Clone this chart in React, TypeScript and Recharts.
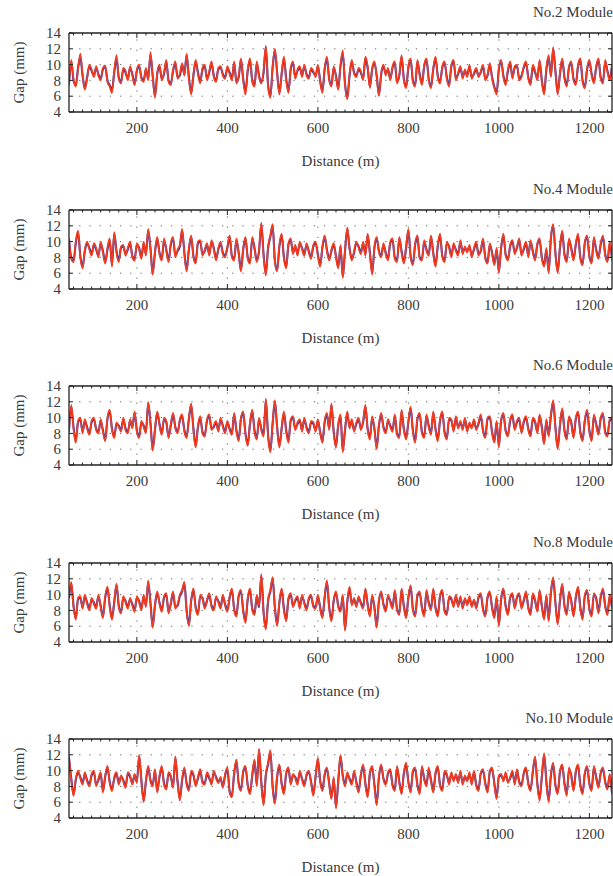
import React from 'react';
import { LineChart, Line, XAxis, YAxis, ReferenceLine } from 'recharts';

// Sampling of every gap record: first station and spacing along the line (m)
const START_M = 50;
const STEP_M = 5;

const X_DOMAIN: [number, number] = [50, 1250];
const Y_DOMAIN: [number, number] = [4, 14];
const X_MAJOR_TICKS = [200, 400, 600, 800, 1000, 1200];
const X_ALL_TICKS = Array.from({ length: 60 }, (_, i) => 60 + i * 20);
const Y_TICKS = [4, 6, 8, 10, 12, 14];
const Y_GRID = [6, 8, 10, 12];

const TITLES = ['No.2 Module', 'No.4 Module', 'No.6 Module', 'No.8 Module', 'No.10 Module'];
const X_LABEL = 'Distance (m)';
const Y_LABEL = 'Gap (mm)';

// ---- No.2 module ----
const NO2_A = [
  7.6, 10.4, 8.0, 7.4, 9.6, 11.0, 8.6, 7.0, 8.4, 9.8,
  9.2, 8.6, 9.6, 8.8, 8.2, 9.4, 9.7, 8.0, 7.4, 6.8,
  9.0, 10.8, 8.4, 7.8, 9.4, 9.0, 8.2, 9.6, 8.8, 7.6,
  9.2, 9.8, 8.4, 8.0, 9.4, 8.2, 11.2, 8.6, 6.0, 8.8,
  9.8, 8.2, 8.8, 10.4, 8.0, 7.6, 9.2, 10.2, 8.4, 8.6,
  10.0, 8.8, 11.2, 8.4, 6.4, 8.6, 10.4, 9.0, 7.8, 9.4,
  9.8, 8.2, 9.0, 10.2, 8.6, 8.0, 9.4, 9.6, 8.8, 8.4,
  9.6, 9.0, 8.2, 10.2, 7.8, 8.4, 10.6, 8.2, 6.6, 9.2,
  10.6, 8.0, 7.4, 10.2, 8.6, 7.8, 9.0, 12.2, 7.4, 6.0,
  9.6, 11.8, 9.0, 6.4, 8.8, 10.8, 8.2, 6.6, 9.4, 10.2,
  8.4, 9.2, 9.6, 8.6, 9.8, 8.8, 8.4, 9.4, 9.0, 8.6,
  9.8, 8.0, 6.6, 9.4, 10.8, 8.2, 7.4, 9.6, 8.6, 7.0,
  9.8, 11.4, 7.6, 5.8, 8.6, 10.4, 9.0, 8.6, 9.4, 9.0,
  8.2, 10.8, 9.6, 7.2, 9.4, 10.2, 8.6, 6.2, 8.8, 9.8,
  8.8, 9.4, 8.2, 9.6, 10.2, 7.8, 8.6, 11.0, 8.2, 7.2,
  9.6, 10.6, 8.0, 7.4, 10.4, 8.8, 7.6, 9.8, 10.6, 8.2,
  7.2, 9.4, 10.8, 8.6, 7.8, 9.6, 10.2, 8.4, 7.4, 9.8,
  10.4, 8.2, 8.8, 9.6, 8.4, 9.2, 8.6, 9.8, 8.4, 8.8,
  9.4, 8.6, 9.0, 9.8, 8.2, 8.6, 10.0, 8.4, 7.2, 6.4,
  9.4, 10.4, 8.6, 7.6, 9.2, 10.2, 8.4, 9.6, 9.8, 8.2,
  8.6, 9.6, 10.2, 8.4, 7.6, 9.8, 9.0, 8.2, 10.4, 8.0,
  6.4, 9.4, 11.0, 8.6, 12.0, 9.2, 6.4, 8.8, 10.6, 8.4,
  7.4, 9.6, 10.2, 8.2, 7.6, 9.8, 10.6, 8.0, 7.2, 9.4,
  10.4, 8.8, 7.8, 9.6, 10.6, 8.4, 7.8, 10.4, 9.2, 8.2,
  9.8,
];
const NO2_B = [
  7.4, 10.6, 8.2, 7.2, 9.4, 11.4, 8.8, 6.8, 8.2, 10.0,
  9.4, 8.4, 9.8, 8.6, 8.0, 9.6, 9.9, 7.8, 7.2, 6.4,
  9.2, 11.2, 8.2, 7.6, 9.6, 9.2, 8.0, 9.8, 8.6, 7.4,
  9.4, 10.0, 8.2, 7.8, 9.6, 8.0, 11.6, 8.4, 5.8, 9.0,
  10.0, 8.0, 9.0, 10.6, 7.8, 7.4, 9.4, 10.4, 8.2, 8.8,
  10.2, 8.6, 11.4, 8.2, 6.2, 8.8, 10.6, 8.8, 7.6, 9.6,
  10.0, 8.0, 9.2, 10.4, 8.4, 7.8, 9.6, 9.8, 8.6, 8.2,
  9.8, 8.8, 8.0, 10.4, 7.6, 8.6, 10.8, 8.0, 6.2, 9.4,
  10.8, 7.8, 7.2, 10.4, 8.4, 7.6, 9.2, 12.4, 7.2, 5.8,
  9.8, 12.0, 8.8, 6.2, 9.0, 11.0, 8.0, 6.4, 9.6, 10.4,
  8.2, 9.4, 9.8, 8.4, 10.0, 8.6, 8.2, 9.6, 9.2, 8.4,
  10.0, 7.8, 6.4, 9.6, 11.0, 8.0, 7.2, 9.8, 8.4, 6.8,
  10.0, 11.8, 7.4, 5.6, 8.8, 10.6, 8.8, 8.4, 9.6, 9.2,
  8.0, 11.0, 9.8, 7.0, 9.6, 10.4, 8.4, 6.0, 9.0, 10.0,
  8.6, 9.6, 8.0, 9.8, 10.4, 7.6, 8.8, 11.2, 8.0, 7.0,
  9.8, 10.8, 7.8, 7.2, 10.6, 8.6, 7.4, 10.0, 10.8, 8.0,
  7.0, 9.6, 11.0, 8.4, 7.6, 9.8, 10.4, 8.2, 7.2, 10.0,
  10.6, 8.0, 9.0, 9.8, 8.2, 9.4, 8.4, 10.0, 8.2, 9.0,
  9.6, 8.4, 9.2, 10.0, 8.0, 8.8, 10.2, 8.2, 7.0, 6.2,
  9.6, 10.6, 8.4, 7.4, 9.4, 10.4, 8.2, 9.8, 10.0, 8.0,
  8.4, 9.8, 10.4, 8.2, 7.4, 10.0, 9.2, 8.0, 10.6, 7.8,
  6.2, 9.6, 11.2, 8.4, 12.2, 9.0, 6.2, 9.0, 10.8, 8.2,
  7.2, 9.8, 10.4, 8.0, 7.4, 10.0, 10.8, 7.8, 7.0, 9.6,
  10.6, 8.6, 7.6, 9.8, 10.8, 8.2, 7.6, 10.6, 9.0, 8.0,
  10.0,
];

// ---- No.4 module ----
const NO4_A = [
  10.2, 8.0, 7.6, 9.8, 11.2, 8.2, 6.8, 8.8, 9.8, 9.2,
  8.4, 9.6, 9.0, 8.2, 9.8, 8.8, 7.4, 9.0, 10.2, 7.0,
  11.0, 8.8, 7.6, 9.2, 9.4, 8.4, 9.0, 9.8, 8.2, 7.8,
  9.6, 9.2, 8.0, 9.8, 8.4, 11.4, 9.2, 6.0, 8.6, 10.4,
  8.6, 7.8, 10.2, 9.0, 7.6, 9.6, 10.4, 8.2, 8.8, 9.4,
  11.4, 8.6, 6.4, 9.0, 10.6, 8.2, 7.4, 9.8, 10.0, 8.4,
  8.8, 9.6, 8.4, 10.0, 9.2, 7.8, 9.0, 9.8, 8.6, 8.2,
  9.2, 10.6, 8.2, 7.8, 10.2, 8.6, 6.4, 9.0, 10.4, 8.0,
  7.4, 10.4, 9.2, 7.6, 8.8, 12.2, 8.4, 5.9, 9.2, 10.6,
  12.0, 7.6, 6.4, 9.4, 10.8, 8.0, 6.8, 9.6, 10.2, 8.6,
  9.4, 8.4, 9.8, 9.2, 8.4, 9.6, 8.8, 8.0, 9.4, 9.8,
  8.4, 7.0, 9.2, 10.6, 9.0, 7.8, 8.8, 9.6, 8.2, 6.8,
  9.4, 5.6, 8.8, 11.6, 9.2, 7.8, 8.6, 9.8, 9.4, 8.6,
  9.8, 8.4, 10.8, 8.6, 6.0, 9.2, 10.4, 8.8, 8.2, 9.6,
  8.6, 7.8, 9.8, 10.2, 8.0, 7.6, 10.4, 8.8, 7.4, 9.2,
  11.4, 8.2, 7.2, 9.6, 10.6, 8.0, 7.8, 10.0, 9.0, 8.4,
  10.6, 8.6, 7.0, 9.4, 10.8, 8.2, 7.6, 9.8, 9.4, 8.2,
  9.6, 9.0, 8.4, 10.0, 8.6, 9.2, 8.8, 9.4, 8.2, 9.0,
  9.8, 8.4, 8.8, 10.2, 8.0, 7.4, 9.6, 8.6, 7.2, 9.0,
  6.2, 9.2, 10.8, 8.4, 7.8, 9.4, 10.0, 8.6, 9.2, 10.2,
  8.4, 9.0, 9.8, 8.2, 10.0, 8.8, 7.8, 9.6, 10.2, 8.0,
  7.0, 9.0, 6.2, 10.4, 12.0, 8.6, 6.2, 9.2, 11.2, 8.4,
  7.6, 10.2, 9.2, 7.8, 9.6, 10.8, 8.0, 7.2, 9.8, 10.6,
  8.2, 7.4, 10.4, 9.0, 8.0, 9.6, 10.6, 8.4, 7.6, 9.8,
  7.8,
];
const NO4_B = [
  10.4, 7.8, 7.4, 10.0, 11.4, 8.0, 6.6, 9.0, 10.0, 9.0,
  8.2, 9.8, 9.2, 8.0, 10.0, 8.6, 7.2, 9.2, 10.4, 6.8,
  11.2, 8.6, 7.4, 9.4, 9.6, 8.2, 9.2, 10.0, 8.0, 7.6,
  9.8, 9.0, 7.8, 10.0, 8.2, 11.6, 9.0, 5.8, 8.8, 10.6,
  8.4, 7.6, 10.4, 8.8, 7.4, 9.8, 10.6, 8.0, 9.0, 9.6,
  11.6, 8.4, 6.2, 9.2, 10.8, 8.0, 7.2, 10.0, 10.2, 8.2,
  9.0, 9.8, 8.2, 10.2, 9.0, 7.6, 9.2, 10.0, 8.4, 8.0,
  9.4, 10.8, 8.0, 7.6, 10.4, 8.4, 6.2, 9.2, 10.6, 7.8,
  7.2, 10.6, 9.0, 7.4, 9.0, 12.4, 8.2, 5.7, 9.4, 10.8,
  12.2, 7.4, 6.2, 9.6, 11.0, 7.8, 6.6, 9.8, 10.4, 8.4,
  9.6, 8.2, 10.0, 9.0, 8.2, 9.8, 8.6, 7.8, 9.6, 10.0,
  8.2, 6.8, 9.4, 10.8, 8.8, 7.6, 9.0, 9.8, 8.0, 6.6,
  9.6, 5.4, 9.0, 11.8, 9.0, 7.6, 8.8, 10.0, 9.2, 8.4,
  10.0, 8.2, 11.0, 8.4, 5.8, 9.4, 10.6, 8.6, 8.0, 9.8,
  8.4, 7.6, 10.0, 10.4, 7.8, 7.4, 10.6, 8.6, 7.2, 9.4,
  11.6, 8.0, 7.0, 9.8, 10.8, 7.8, 7.6, 10.2, 8.8, 8.2,
  10.8, 8.4, 6.8, 9.6, 11.0, 8.0, 7.4, 10.0, 9.2, 8.0,
  9.8, 8.8, 8.2, 10.2, 8.4, 9.4, 8.6, 9.6, 8.0, 9.2,
  10.0, 8.2, 9.0, 10.4, 7.8, 7.2, 9.8, 8.4, 7.0, 9.2,
  6.0, 9.4, 11.0, 8.2, 7.6, 9.6, 10.2, 8.4, 9.4, 10.4,
  8.2, 9.2, 10.0, 8.0, 10.2, 8.6, 7.6, 9.8, 10.4, 7.8,
  6.8, 9.2, 6.0, 10.6, 12.2, 8.4, 6.0, 9.4, 11.4, 8.2,
  7.4, 10.4, 9.0, 7.6, 9.8, 11.0, 7.8, 7.0, 10.0, 10.8,
  8.0, 7.2, 10.6, 8.8, 7.8, 9.8, 10.8, 8.2, 7.4, 10.0,
  7.6,
];

// ---- No.6 module ----
const NO6_A = [
  8.4, 11.4, 8.8, 7.0, 9.4, 9.8, 8.2, 9.6, 8.8, 8.0,
  9.4, 9.8, 8.6, 8.2, 9.6, 8.4, 7.2, 9.8, 10.8, 8.6,
  7.6, 9.2, 9.0, 8.4, 9.8, 8.6, 8.2, 9.6, 8.8, 10.6,
  8.4, 7.6, 9.4, 9.0, 8.2, 11.8, 9.4, 6.0, 8.4, 10.6,
  9.2, 8.0, 9.8, 9.4, 7.6, 9.0, 10.4, 8.8, 8.2, 9.6,
  10.2, 8.4, 7.6, 9.8, 11.6, 8.6, 6.4, 8.8, 10.0, 8.2,
  7.8, 9.6, 10.2, 8.6, 8.8, 9.4, 8.4, 9.8, 9.0, 8.2,
  9.4, 8.6, 8.0, 10.4, 8.4, 7.2, 9.8, 10.6, 8.0, 6.6,
  9.2, 10.8, 8.4, 7.4, 9.8, 8.6, 7.8, 12.2, 7.8, 5.8,
  9.2, 12.0, 8.8, 6.4, 8.6, 10.6, 8.4, 7.0, 9.6, 10.0,
  8.6, 9.2, 9.6, 8.4, 9.8, 8.8, 8.2, 9.4, 9.2, 8.4,
  9.6, 8.2, 7.0, 9.4, 10.4, 8.6, 11.6, 8.2, 6.4, 9.0,
  10.2, 5.8, 8.4, 10.6, 8.8, 9.6, 8.4, 9.2, 9.8, 8.6,
  9.4, 11.4, 8.6, 7.4, 10.0, 8.6, 6.2, 9.0, 10.4, 8.8,
  8.2, 9.6, 9.0, 8.4, 10.2, 8.0, 7.6, 10.8, 8.6, 7.4,
  9.4, 11.2, 8.4, 7.0, 9.8, 10.4, 8.2, 7.6, 10.2, 9.0,
  8.0, 10.6, 8.6, 7.2, 9.6, 10.6, 8.2, 7.4, 9.8, 9.6,
  8.4, 10.0, 8.8, 9.4, 8.6, 9.8, 8.4, 9.2, 8.8, 9.6,
  8.6, 9.2, 10.2, 8.4, 7.6, 9.8, 10.0, 8.2, 7.0, 9.4,
  6.4, 9.6, 10.4, 8.4, 7.8, 9.6, 10.2, 8.6, 9.4, 9.8,
  8.2, 9.4, 10.0, 8.6, 7.8, 9.8, 9.4, 8.2, 10.2, 8.8,
  6.8, 9.6, 7.8, 10.2, 12.0, 8.8, 6.2, 9.0, 11.0, 8.4,
  7.4, 10.0, 9.4, 7.6, 9.8, 10.6, 8.2, 7.2, 9.6, 10.8,
  8.4, 7.2, 10.2, 9.2, 8.0, 9.8, 10.4, 8.2, 7.8, 9.6,
  9.8,
];
const NO6_B = [
  8.2, 11.6, 8.6, 6.8, 9.6, 10.0, 8.0, 9.8, 8.6, 7.8,
  9.6, 10.0, 8.4, 8.0, 9.8, 8.2, 7.0, 10.0, 11.0, 8.4,
  7.4, 9.4, 8.8, 8.2, 10.0, 8.4, 8.0, 9.8, 8.6, 10.8,
  8.2, 7.4, 9.6, 8.8, 8.0, 12.0, 9.2, 5.8, 8.6, 10.8,
  9.0, 7.8, 10.0, 9.6, 7.4, 9.2, 10.6, 8.6, 8.0, 9.8,
  10.4, 8.2, 7.4, 10.0, 11.8, 8.4, 6.2, 9.0, 10.2, 8.0,
  7.6, 9.8, 10.4, 8.4, 9.0, 9.6, 8.2, 10.0, 8.8, 8.0,
  9.6, 8.4, 7.8, 10.6, 8.2, 7.0, 10.0, 10.8, 7.8, 6.4,
  9.4, 11.0, 8.2, 7.2, 10.0, 8.4, 7.6, 12.4, 7.6, 5.6,
  9.4, 12.2, 8.6, 6.2, 8.8, 10.8, 8.2, 6.8, 9.8, 10.2,
  8.4, 9.4, 9.8, 8.2, 10.0, 8.6, 8.0, 9.6, 9.4, 8.2,
  9.8, 8.0, 6.8, 9.6, 10.6, 8.4, 11.8, 8.0, 6.2, 9.2,
  10.4, 5.6, 8.6, 10.8, 8.6, 9.8, 8.2, 9.4, 10.0, 8.4,
  9.6, 11.6, 8.4, 7.2, 10.2, 8.4, 6.0, 9.2, 10.6, 8.6,
  8.0, 9.8, 8.8, 8.2, 10.4, 7.8, 7.4, 11.0, 8.4, 7.2,
  9.6, 11.4, 8.2, 6.8, 10.0, 10.6, 8.0, 7.4, 10.4, 8.8,
  7.8, 10.8, 8.4, 7.0, 9.8, 10.8, 8.0, 7.2, 10.0, 9.8,
  8.2, 10.2, 8.6, 9.6, 8.4, 10.0, 8.2, 9.4, 8.6, 9.8,
  8.4, 9.4, 10.4, 8.2, 7.4, 10.0, 10.2, 8.0, 6.8, 9.6,
  6.2, 9.8, 10.6, 8.2, 7.6, 9.8, 10.4, 8.4, 9.6, 10.0,
  8.0, 9.6, 10.2, 8.4, 7.6, 10.0, 9.6, 8.0, 10.4, 8.6,
  6.6, 9.8, 7.6, 10.4, 12.2, 8.6, 6.0, 9.2, 11.2, 8.2,
  7.2, 10.2, 9.2, 7.4, 10.0, 10.8, 8.0, 7.0, 9.8, 11.0,
  8.2, 7.0, 10.4, 9.0, 7.8, 10.0, 10.6, 8.0, 7.6, 9.8,
  10.0,
];

// ---- No.8 module ----
const NO8_A = [
  9.6, 11.4, 8.6, 7.0, 9.4, 9.6, 8.4, 9.8, 9.0, 8.2,
  9.4, 9.0, 8.4, 9.8, 8.6, 7.2, 9.6, 10.8, 8.6, 7.0,
  9.0, 11.2, 8.6, 7.8, 9.6, 9.2, 8.4, 9.4, 8.8, 8.0,
  9.6, 9.2, 8.2, 9.8, 8.6, 11.6, 9.0, 6.0, 8.6, 10.2,
  9.0, 8.0, 9.6, 10.0, 7.8, 8.8, 10.2, 8.4, 8.6, 9.8,
  10.4, 11.4, 8.0, 6.2, 9.2, 10.6, 8.4, 7.6, 9.8, 9.6,
  8.4, 9.2, 10.0, 8.6, 8.2, 9.6, 9.2, 8.4, 9.8, 8.8,
  8.0, 9.6, 10.6, 8.2, 7.4, 9.8, 10.4, 8.0, 6.6, 9.4,
  10.6, 8.2, 7.6, 9.8, 8.4, 12.4, 7.8, 5.8, 9.2, 10.4,
  12.0, 8.4, 6.2, 9.0, 10.6, 8.2, 6.8, 9.4, 10.0, 8.6,
  9.2, 9.6, 8.4, 9.8, 9.0, 8.2, 9.4, 9.8, 8.6, 8.4,
  9.8, 8.4, 7.2, 9.6, 11.6, 8.4, 6.8, 9.2, 10.2, 8.6,
  8.0, 9.8, 5.6, 9.0, 10.8, 8.8, 9.4, 8.6, 9.6, 9.0,
  8.4, 10.6, 8.8, 7.4, 9.8, 8.4, 6.0, 9.2, 10.2, 8.8,
  8.0, 9.8, 9.2, 8.4, 10.4, 8.2, 7.6, 10.6, 8.6, 7.2,
  9.6, 11.0, 8.2, 7.4, 9.8, 10.2, 8.4, 7.4, 10.4, 9.0,
  8.2, 10.6, 8.4, 7.4, 9.8, 10.4, 8.0, 7.6, 9.6, 9.4,
  8.6, 9.8, 8.6, 9.6, 8.4, 9.4, 8.8, 9.6, 8.6, 9.2,
  8.4, 9.6, 10.0, 8.2, 7.4, 9.6, 10.2, 8.4, 7.2, 9.6,
  6.2, 9.4, 10.6, 8.6, 7.6, 9.6, 10.0, 8.4, 9.6, 10.0,
  8.4, 9.2, 10.2, 8.4, 7.6, 10.0, 9.2, 8.0, 10.4, 8.6,
  7.0, 9.8, 6.8, 10.2, 12.0, 9.0, 6.4, 9.2, 11.2, 8.6,
  7.6, 10.2, 9.2, 7.4, 9.6, 10.8, 8.4, 7.0, 9.8, 10.4,
  8.2, 7.4, 10.0, 9.6, 7.8, 9.6, 10.6, 8.6, 7.6, 9.8,
  8.4,
];
const NO8_B = [
  9.8, 11.6, 8.4, 6.8, 9.6, 9.8, 8.2, 10.0, 8.8, 8.0,
  9.6, 8.8, 8.2, 10.0, 8.4, 7.0, 9.8, 11.0, 8.4, 6.8,
  9.2, 11.4, 8.4, 7.6, 9.8, 9.0, 8.2, 9.6, 8.6, 7.8,
  9.8, 9.0, 8.0, 10.0, 8.4, 11.8, 8.8, 5.8, 8.8, 10.4,
  8.8, 7.8, 9.8, 10.2, 7.6, 9.0, 10.4, 8.2, 8.8, 10.0,
  10.6, 11.6, 7.8, 6.0, 9.4, 10.8, 8.2, 7.4, 10.0, 9.4,
  8.2, 9.4, 10.2, 8.4, 8.0, 9.8, 9.0, 8.2, 10.0, 8.6,
  7.8, 9.8, 10.8, 8.0, 7.2, 10.0, 10.6, 7.8, 6.4, 9.6,
  10.8, 8.0, 7.4, 10.0, 8.6, 12.6, 7.6, 5.6, 9.4, 10.6,
  12.2, 8.2, 6.0, 9.2, 10.8, 8.0, 6.6, 9.6, 10.2, 8.4,
  9.4, 9.8, 8.2, 10.0, 8.8, 8.0, 9.6, 10.0, 8.4, 8.2,
  10.0, 8.2, 7.0, 9.8, 11.8, 8.2, 6.6, 9.4, 10.4, 8.4,
  7.8, 10.0, 5.4, 9.2, 11.0, 8.6, 9.6, 8.4, 9.8, 8.8,
  8.2, 10.8, 8.6, 7.2, 10.0, 8.2, 5.8, 9.4, 10.4, 8.6,
  7.8, 10.0, 9.0, 8.2, 10.6, 8.0, 7.4, 10.8, 8.4, 7.0,
  9.8, 11.2, 8.0, 7.2, 10.0, 10.4, 8.2, 7.2, 10.6, 8.8,
  8.0, 10.8, 8.2, 7.2, 10.0, 10.6, 7.8, 7.4, 9.8, 9.6,
  8.4, 10.0, 8.4, 9.8, 8.2, 9.6, 8.6, 9.8, 8.4, 9.4,
  8.2, 9.8, 10.2, 8.0, 7.2, 9.8, 10.4, 8.2, 7.0, 9.8,
  6.0, 9.6, 10.8, 8.4, 7.4, 9.8, 10.2, 8.2, 9.8, 10.2,
  8.2, 9.4, 10.4, 8.2, 7.4, 10.2, 9.4, 7.8, 10.6, 8.4,
  6.8, 10.0, 6.6, 10.4, 12.2, 8.8, 6.2, 9.4, 11.4, 8.4,
  7.4, 10.4, 9.0, 7.2, 9.8, 11.0, 8.2, 6.8, 10.0, 10.6,
  8.0, 7.2, 10.2, 9.4, 7.6, 9.8, 10.8, 8.4, 7.4, 10.0,
  8.2,
];

// ---- No.10 module ----
const NO10_A = [
  11.6, 9.0, 7.0, 8.8, 9.8, 9.2, 8.4, 9.6, 8.8, 8.2,
  9.4, 9.8, 8.2, 8.8, 9.6, 7.4, 9.2, 10.4, 8.6, 7.6,
  9.0, 9.6, 8.4, 9.2, 8.8, 8.0, 9.6, 9.2, 8.4, 9.4,
  8.6, 11.8, 8.8, 6.2, 8.6, 10.4, 8.8, 8.2, 10.0, 7.4,
  9.2, 10.4, 8.4, 7.8, 9.6, 9.2, 8.0, 11.6, 8.6, 6.4,
  8.8, 10.2, 8.4, 7.6, 9.8, 9.4, 8.2, 9.0, 10.0, 8.6,
  8.4, 9.6, 9.0, 8.4, 9.8, 9.2, 8.6, 9.0, 8.0, 9.4,
  10.2, 7.4, 6.8, 9.6, 11.2, 8.4, 7.6, 9.8, 10.4, 8.2,
  7.2, 9.4, 11.2, 8.2, 12.6, 8.6, 5.8, 9.4, 10.8, 12.4,
  8.0, 6.0, 9.2, 10.6, 8.4, 7.2, 9.6, 10.2, 8.4, 9.4,
  9.2, 8.4, 9.8, 9.0, 8.2, 9.4, 9.8, 8.6, 7.0, 9.2,
  11.4, 8.8, 7.6, 9.4, 10.2, 8.4, 6.6, 9.0, 5.4, 8.6,
  11.8, 9.4, 8.2, 9.6, 9.0, 8.4, 9.8, 8.6, 7.4, 9.4,
  10.6, 8.4, 6.8, 9.6, 10.4, 8.2, 5.8, 9.2, 10.6, 9.0,
  8.4, 9.6, 10.0, 8.2, 7.6, 10.4, 8.6, 7.2, 9.6, 10.8,
  8.6, 7.4, 9.8, 10.2, 8.2, 7.2, 10.4, 9.0, 8.2, 10.2,
  8.8, 7.4, 9.6, 10.4, 8.2, 7.6, 9.8, 9.4, 8.4, 9.6,
  8.8, 9.4, 8.6, 9.8, 8.4, 9.2, 8.8, 9.6, 8.4, 9.8,
  8.2, 7.6, 9.6, 10.0, 8.4, 7.4, 9.8, 10.2, 8.4, 6.6,
  9.2, 9.4, 8.8, 9.6, 8.6, 9.0, 9.8, 8.4, 10.0, 8.6,
  8.2, 9.6, 10.2, 8.4, 7.6, 9.8, 11.6, 8.4, 6.4, 9.2,
  12.0, 8.6, 6.2, 9.4, 10.8, 8.2, 7.2, 9.8, 10.6, 8.4,
  7.0, 10.2, 9.4, 7.6, 9.8, 10.6, 8.2, 7.2, 9.6, 10.4,
  8.4, 7.6, 10.4, 9.2, 8.0, 9.6, 10.2, 8.6, 7.8, 9.4,
  7.2,
];
const NO10_B = [
  11.8, 8.8, 6.8, 9.0, 10.0, 9.0, 8.2, 9.8, 8.6, 8.0,
  9.6, 10.0, 8.0, 9.0, 9.8, 7.2, 9.4, 10.6, 8.4, 7.4,
  9.2, 9.8, 8.2, 9.4, 8.6, 7.8, 9.8, 9.4, 8.2, 9.6,
  8.4, 12.0, 8.6, 6.0, 8.8, 10.6, 8.6, 8.0, 10.2, 7.2,
  9.4, 10.6, 8.2, 7.6, 9.8, 9.4, 7.8, 11.8, 8.4, 6.2,
  9.0, 10.4, 8.2, 7.4, 10.0, 9.6, 8.0, 9.2, 10.2, 8.4,
  8.2, 9.8, 9.2, 8.2, 10.0, 9.0, 8.4, 9.2, 7.8, 9.6,
  10.4, 7.2, 6.6, 9.8, 11.4, 8.2, 7.4, 10.0, 10.6, 8.0,
  7.0, 9.6, 11.4, 8.0, 12.8, 8.4, 5.6, 9.6, 11.0, 12.6,
  7.8, 5.8, 9.4, 10.8, 8.2, 7.0, 9.8, 10.4, 8.2, 9.6,
  9.0, 8.2, 10.0, 8.8, 8.0, 9.6, 10.0, 8.4, 6.8, 9.4,
  11.6, 8.6, 7.4, 9.6, 10.4, 8.2, 6.4, 9.2, 5.2, 8.8,
  12.0, 9.2, 8.0, 9.8, 8.8, 8.2, 10.0, 8.4, 7.2, 9.6,
  10.8, 8.2, 6.6, 9.8, 10.6, 8.0, 5.6, 9.4, 10.8, 8.8,
  8.2, 9.8, 10.2, 8.0, 7.4, 10.6, 8.4, 7.0, 9.8, 11.0,
  8.4, 7.2, 10.0, 10.4, 8.0, 7.0, 10.6, 8.8, 8.0, 10.4,
  8.6, 7.2, 9.8, 10.6, 8.0, 7.4, 10.0, 9.6, 8.2, 9.8,
  8.6, 9.6, 8.4, 10.0, 8.2, 9.4, 8.6, 9.8, 8.2, 10.0,
  8.0, 7.4, 9.8, 10.2, 8.2, 7.2, 10.0, 10.4, 8.2, 6.4,
  9.4, 9.6, 8.6, 9.8, 8.4, 9.2, 10.0, 8.2, 10.2, 8.4,
  8.0, 9.8, 10.4, 8.2, 7.4, 10.0, 11.8, 8.2, 6.2, 9.4,
  12.2, 8.4, 6.0, 9.6, 11.0, 8.0, 7.0, 10.0, 10.8, 8.2,
  6.8, 10.4, 9.2, 7.4, 10.0, 10.8, 8.0, 7.0, 9.8, 10.6,
  8.2, 7.4, 10.6, 9.0, 7.8, 9.8, 10.4, 8.4, 7.6, 9.6,
  7.0,
];

const SERIES_A = [NO2_A, NO4_A, NO6_A, NO8_A, NO10_A];
const SERIES_B = [NO2_B, NO4_B, NO6_B, NO8_B, NO10_B];

const COLOR_A = '#3736a6';
const COLOR_B = '#f23c20';
const AXIS_COLOR = '#222';
const TEXT_COLOR = '#3a3a3a';
const FONT = '"Liberation Serif", "Times New Roman", serif';
const FONT_SIZE = 15;

const PANEL_W = 613;
const PANEL_H = 177;
const PANEL_STEP = 176.5;

const textStyle: React.CSSProperties = {
  fontFamily: FONT,
  fontSize: FONT_SIZE,
  fontWeight: 400,
  fill: TEXT_COLOR,
  stroke: 'none',
};

const buildRows = (a: number[], b: number[]) =>
  a.map((v, i) => ({ distance: START_M + i * STEP_M, a: v, b: b[i] }));

const isMajor = (v: number) => X_MAJOR_TICKS.includes(v);

const BottomTick = (props: any) => {
  const { x, y, payload } = props;
  const v = payload.value as number;
  const major = isMajor(v);
  return (
    <g>
      <line x1={x} x2={x} y1={y} y2={y - (major ? 5 : 2.5)} stroke={AXIS_COLOR} strokeWidth={1} />
      {major && (
        <text x={x} y={y + 21} textAnchor="middle" style={textStyle}>
          {v}
        </text>
      )}
    </g>
  );
};

const TopTick = (props: any) => {
  const { x, y, payload } = props;
  const major = isMajor(payload.value as number);
  return <line x1={x} x2={x} y1={y} y2={y + (major ? 5 : 2.5)} stroke={AXIS_COLOR} strokeWidth={1} />;
};

const LeftTick = (props: any) => {
  const { x, y, payload } = props;
  return (
    <g>
      <line x1={x} x2={x + 4} y1={y} y2={y} stroke={AXIS_COLOR} strokeWidth={1} />
      <text x={x - 8} y={y} dy="0.35em" textAnchor="end" style={textStyle}>
        {payload.value}
      </text>
    </g>
  );
};

const RightTick = (props: any) => {
  const { x, y } = props;
  return <line x1={x} x2={x - 4} y1={y} y2={y} stroke={AXIS_COLOR} strokeWidth={1} />;
};

const Panel = ({ index }: { index: number }) => {
  const rows = buildRows(SERIES_A[index], SERIES_B[index]);
  const title = TITLES[index];
  return (
    <div style={{ position: 'absolute', left: 0, top: Math.round(index * PANEL_STEP), width: PANEL_W, height: PANEL_H }}>
      <LineChart width={PANEL_W} height={PANEL_H} data={rows} margin={{ top: 32, right: 0, bottom: 0, left: 0 }}>
        <XAxis
          dataKey="distance"
          type="number"
          domain={X_DOMAIN}
          allowDataOverflow
          ticks={X_ALL_TICKS}
          interval={0}
          height={65}
          tickSize={0}
          tickMargin={0}
          tickLine={false}
          tick={<BottomTick />}
          axisLine={{ stroke: AXIS_COLOR, strokeWidth: 1.3 }}
          label={{
            content: (p: any) => {
              const vb = p.viewBox;
              return (
                <text x={vb.x + vb.width / 2} y={vb.y + 54} textAnchor="middle" style={textStyle}>
                  {X_LABEL}
                </text>
              );
            },
          }}
        />
        <XAxis
          xAxisId="top"
          orientation="top"
          dataKey="distance"
          type="number"
          domain={X_DOMAIN}
          allowDataOverflow
          ticks={X_ALL_TICKS}
          interval={0}
          height={1}
          tickSize={0}
          tickMargin={0}
          tickLine={false}
          tick={<TopTick />}
          axisLine={{ stroke: AXIS_COLOR, strokeWidth: 1.3 }}
          label={{
            content: (p: any) => {
              const vb = p.viewBox;
              return (
                <text x={vb.x + vb.width + 1} y={vb.y - 15} textAnchor="end" style={textStyle}>
                  {title}
                </text>
              );
            },
          }}
        />
        <YAxis
          type="number"
          domain={Y_DOMAIN}
          allowDataOverflow
          ticks={Y_TICKS}
          interval={0}
          width={69}
          tickSize={0}
          tickMargin={0}
          tickLine={false}
          tick={<LeftTick />}
          axisLine={{ stroke: AXIS_COLOR, strokeWidth: 1.3 }}
          label={{
            content: (p: any) => {
              const vb = p.viewBox;
              const cx = 19;
              const cy = vb.y + vb.height / 2;
              return (
                <text
                  x={cx}
                  y={cy}
                  dy="0.35em"
                  textAnchor="middle"
                  transform={`rotate(-90, ${cx}, ${cy})`}
                  style={textStyle}
                >
                  {Y_LABEL}
                </text>
              );
            },
          }}
        />
        <YAxis
          yAxisId="right"
          orientation="right"
          type="number"
          domain={Y_DOMAIN}
          allowDataOverflow
          ticks={Y_TICKS}
          interval={0}
          width={1}
          tickSize={0}
          tickMargin={0}
          tickLine={false}
          tick={<RightTick />}
          axisLine={{ stroke: AXIS_COLOR, strokeWidth: 1.3 }}
        />
        {Y_GRID.map((v) => (
          <ReferenceLine key={`h${v}`} y={v} stroke="#666" strokeWidth={1} strokeDasharray="1.2 9" />
        ))}
        {X_MAJOR_TICKS.map((v) => (
          <ReferenceLine key={`v${v}`} x={v} stroke="#666" strokeWidth={1} strokeDasharray="1.2 9" />
        ))}
        <Line
          type="monotone"
          dataKey="a"
          stroke={COLOR_A}
          strokeWidth={2.1}
          dot={false}
          isAnimationActive={false}
        />
        <Line
          type="monotone"
          dataKey="b"
          stroke={COLOR_B}
          strokeWidth={1.7}
          dot={false}
          isAnimationActive={false}
        />
      </LineChart>
    </div>
  );
}

export default function App() {
  return (
    <div style={{ position: 'absolute', left: 0, top: 0, width: 613, height: 876, background: '#fff' }}>
      {TITLES.map((_, i) => (
        <Panel key={i} index={i} />
      ))}
    </div>
  );
}
